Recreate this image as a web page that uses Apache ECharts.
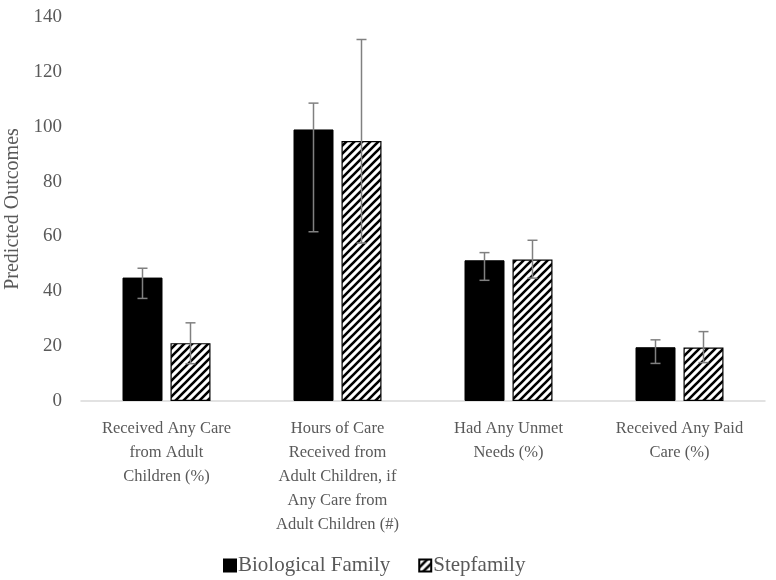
<!DOCTYPE html>
<html>
<head>
<meta charset="utf-8">
<script src="https://cdn.jsdelivr.net/npm/echarts@6/dist/echarts.min.js"></script>
<style>html,body{margin:0;padding:0;background:#fff}#c{width:776px;height:580px}</style>
</head>
<body>
<div id="c"></div>
<script>
var categories = [
  "Received Any Care\nfrom Adult\nChildren (%)",
  "Hours of Care\nReceived from\nAdult Children, if\nAny Care from\nAdult Children (#)",
  "Had Any Unmet\nNeeds (%)",
  "Received Any Paid\nCare (%)"
];
var seriesNames = ["Biological Family", "Stepfamily"];
var bioValues = [45, 99, 51.3, 19.6];
var bioLow = [37.4, 61.7, 44, 13.7];
var bioHigh = [48.4, 108.6, 54.1, 22.3];
var stepValues = [21.1, 94.8, 51.6, 19.5];
var stepLow = [13.6, 57.6, 44.8, 14.0];
var stepHigh = [28.5, 131.8, 58.6, 25.3];
var yTicks = [0, 20, 40, 60, 80, 100, 120, 140];

var FONT = "'Liberation Serif','Times New Roman',serif";
var TXT = '#595959';

function hatch() {
  var c = document.createElement('canvas');
  c.width = 8; c.height = 8;
  var g = c.getContext('2d');
  g.fillStyle = '#fff'; g.fillRect(0, 0, 8, 8);
  g.strokeStyle = '#000'; g.lineWidth = 2.6;
  g.beginPath();
  g.moveTo(-2, 10); g.lineTo(10, -2);
  g.moveTo(-2, 2); g.lineTo(2, -2);
  g.moveTo(6, 10); g.lineTo(10, 6);
  g.stroke();
  return c;
}
var pattern = { image: hatch(), repeat: 'repeat' };

var BAR_W = 40, GAP = 8;
function errSeries(low, high, offset) {
  return {
    type: 'custom',
    silent: true,
    z: 10,
    data: low.map(function (l, i) { return [i, l, high[i]]; }),
    renderItem: function (params, api) {
      var i = api.value(0);
      var p1 = api.coord([i, api.value(1)]);
      var p2 = api.coord([i, api.value(2)]);
      var x = p1[0] + offset;
      var hw = 5;
      var st = { stroke: '#808080', lineWidth: 1.5 };
      return {
        type: 'group',
        children: [
          { type: 'line', shape: { x1: x, y1: p1[1], x2: x, y2: p2[1] }, style: st },
          { type: 'line', shape: { x1: x - hw, y1: p1[1], x2: x + hw, y2: p1[1] }, style: st },
          { type: 'line', shape: { x1: x - hw, y1: p2[1], x2: x + hw, y2: p2[1] }, style: st }
        ]
      };
    }
  };
}

var chart = echarts.init(document.getElementById('c'), null, { renderer: 'canvas' });
chart.setOption({
  animation: false,
  backgroundColor: '#fff',
  textStyle: { fontFamily: FONT },
  grid: { left: 81, right: 11, top: 17, bottom: 179, containLabel: false, outerBoundsMode: 'none' },
  legend: {
    data: seriesNames,
    left: 218,
    top: 550,
    icon: 'rect',
    itemWidth: 12,
    itemHeight: 12,
    itemGap: 28,
    textStyle: { fontFamily: FONT, fontSize: 21, color: TXT, padding: [0, 0, 0, -3] }
  },
  xAxis: {
    type: 'category',
    data: categories,
    axisLine: { lineStyle: { color: '#d9d9d9', width: 1.5 } },
    axisTick: { show: false },
    axisLabel: {
      interval: 0,
      margin: 16,
      fontFamily: FONT,
      fontSize: 16.5,
      lineHeight: 24,
      color: TXT,
      align: 'center'
    }
  },
  yAxis: {
    type: 'value',
    min: yTicks[0],
    max: yTicks[yTicks.length - 1],
    interval: 20,
    name: 'Predicted Outcomes',
    nameLocation: 'middle',
    nameGap: 54,
    nameTextStyle: { fontFamily: FONT, fontSize: 20, color: TXT },
    axisLine: { show: false },
    axisTick: { show: false },
    splitLine: { show: false },
    axisLabel: { fontFamily: FONT, fontSize: 19, color: TXT, margin: 19 }
  },
  series: [
    {
      name: seriesNames[0],
      type: 'bar',
      data: bioValues,
      barWidth: BAR_W,
      barGap: '20%',
      itemStyle: { color: '#000', borderColor: '#000', borderWidth: 1 }
    },
    {
      name: seriesNames[1],
      type: 'bar',
      data: stepValues,
      barWidth: BAR_W,
      barGap: '20%',
      itemStyle: { color: pattern, borderColor: '#000', borderWidth: 1.2 }
    },
    errSeries(bioLow, bioHigh, -(BAR_W + GAP) / 2),
    errSeries(stepLow, stepHigh, (BAR_W + GAP) / 2)
  ]
});
</script>
</body>
</html>
